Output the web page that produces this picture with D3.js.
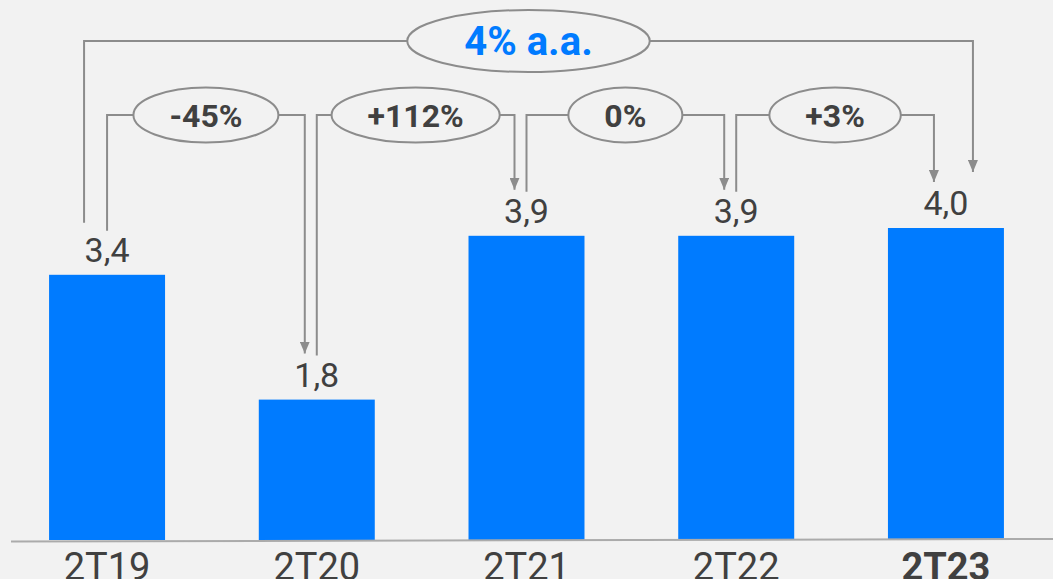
<!DOCTYPE html>
<html>
<head>
<meta charset="utf-8">
<script src="https://cdn.jsdelivr.net/npm/d3@7"></script>
<style>
  html, body { margin: 0; padding: 0; background: #f2f2f2; }
  svg { display: block; }
</style>
</head>
<body>
<div id="chart"></div>
<script>
// Quarterly values (2nd quarter of each year)
const categories = ["2T19", "2T20", "2T21", "2T22", "2T23"];
const values = [3.4, 1.8, 3.9, 3.9, 4.0];
const valueLabels = ["3,4", "1,8", "3,9", "3,9", "4,0"];
const boldCategories = ["2T23"];
// Year-over-year change between consecutive quarters
const stepLabels = ["-45%", "+112%", "0%", "+3%"];
// Compound annual growth, first to last quarter
const cagrLabel = "4% a.a.";

const W = 1053, H = 579;
const BLUE = "#007bff", TEXT = "#404040", LINE = "#8c8c8c";
const FONT = "Roboto, 'Noto Sans', sans-serif";

const svg = d3.select("#chart").append("svg")
  .attr("width", W).attr("height", H)
  .style("background", "#f2f2f2");

const defs = svg.append("defs");
defs.append("marker")
  .attr("id", "arrow")
  .attr("markerUnits", "userSpaceOnUse")
  .attr("viewBox", "0 0 12 10")
  .attr("refX", 12).attr("refY", 5)
  .attr("markerWidth", 12).attr("markerHeight", 10)
  .attr("orient", "auto")
  .append("path")
  .attr("d", "M0,0 L12,5 L0,10 Z")
  .attr("fill", LINE);

const x = d3.scaleBand()
  .domain(categories)
  .range([0, W])
  .paddingInner(0.447)
  .paddingOuter(0.234);

const baseY = 540;
const y = d3.scaleLinear().domain([0, 4]).range([baseY, 228]);

const cx = c => x(c) + x.bandwidth() / 2;

// Bars
svg.append("g").selectAll("rect")
  .data(categories)
  .join("rect")
  .attr("x", d => x(d))
  .attr("width", x.bandwidth())
  .attr("y", (d, i) => y(values[i]))
  .attr("height", (d, i) => baseY - y(values[i]))
  .attr("fill", BLUE);

// Value labels above bars
const labelBase = i => y(values[i]) - 13;
const labelTop = i => labelBase(i) - 25;
svg.append("g").selectAll("text")
  .data(categories)
  .join("text")
  .attr("x", d => cx(d))
  .attr("y", (d, i) => labelBase(i))
  .attr("text-anchor", "middle")
  .attr("font-family", FONT)
  .attr("font-size", 34)
  .attr("fill", TEXT)
  .text((d, i) => valueLabels[i]);

// Category axis
const axis = svg.append("g")
  .attr("transform", `translate(0,${baseY})`)
  .call(d3.axisBottom(x).tickSize(0).tickPadding(0));
axis.select(".domain").remove();
axis.selectAll(".tick text")
  .attr("y", 40)
  .attr("dy", 0)
  .attr("font-family", FONT)
  .attr("font-size", 38)
  .attr("font-weight", d => boldCategories.includes(d) ? 700 : 400)
  .attr("fill", TEXT);
svg.append("line")
  .attr("x1", 11).attr("x2", W)
  .attr("y1", baseY + 1.5).attr("y2", baseY - 1)
  .attr("stroke", "#ababab")
  .attr("stroke-width", 2);

// Bracket with a labelled ellipse in the middle and an arrow into the target bar
function bracket(xOut, yOut, xIn, yIn, yTop, label, opts) {
  const g = svg.append("g");
  const mid = (xOut + xIn) / 2;
  const t = g.append("text")
    .attr("x", mid).attr("y", yTop)
    .attr("dy", "0.36em")
    .attr("text-anchor", "middle")
    .attr("font-family", FONT)
    .attr("font-weight", 700)
    .attr("font-size", opts.size)
    .attr("fill", opts.color)
    .text(label);
  const tw = t.node().getComputedTextLength();
  const rx = Math.max(opts.minRx, tw / 2 + opts.pad);
  g.insert("ellipse", "text")
    .attr("cx", mid).attr("cy", yTop)
    .attr("rx", rx).attr("ry", opts.ry)
    .attr("fill", "#f2f2f2")
    .attr("stroke", LINE)
    .attr("stroke-width", 2);
  g.insert("path", "ellipse")
    .attr("d", `M${xOut},${yOut} V${yTop} H${mid - rx}`)
    .attr("fill", "none").attr("stroke", LINE).attr("stroke-width", 2);
  g.insert("path", "ellipse")
    .attr("d", `M${mid + rx},${yTop} H${xIn} V${yIn}`)
    .attr("fill", "none").attr("stroke", LINE).attr("stroke-width", 2)
    .attr("marker-end", "url(#arrow)");
}

const stepTop = 115;
stepLabels.forEach((lab, i) => {
  const xOut = cx(categories[i]);
  const xIn = cx(categories[i + 1]) - 12;
  bracket(xOut, labelTop(i) - 6, xIn, labelTop(i + 1) - 8, stepTop, lab,
    { size: 32, color: TEXT, pad: 36, minRx: 56, ry: 27.5 });
});

const last = categories.length - 1;
bracket(cx(categories[0]) - 23, labelTop(0) - 14,
        cx(categories[last]) + 27, labelTop(last) - 18,
        41, cagrLabel,
        { size: 40, color: BLUE, pad: 57, minRx: 60, ry: 31 });
</script>
</body>
</html>
